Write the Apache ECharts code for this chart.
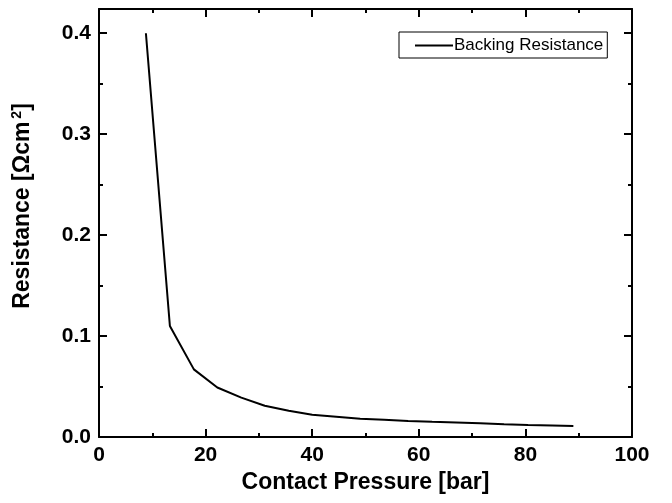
<!DOCTYPE html>
<html>
<head>
<meta charset="utf-8">
<script src="https://cdn.jsdelivr.net/npm/echarts@6/dist/echarts.min.js"></script>
<style>
  html, body { margin: 0; padding: 0; background: #fff; }
  #chart { width: 672px; height: 503px; }
</style>
</head>
<body>
<div id="chart"></div>
<script>
// contact pressure [bar]
const pressure = [8.8, 13.3, 17.8, 22.2, 26.7, 31.1, 35.6, 40, 44.5, 49, 53.5, 58, 62.5, 67, 71.5, 76, 80.5, 85, 89];
// backing resistance [Ohm cm^2]
const resistance = [0.4, 0.11, 0.067, 0.049, 0.039, 0.031, 0.026, 0.022, 0.02, 0.018, 0.017, 0.0158, 0.015, 0.0143, 0.0135, 0.0127, 0.012, 0.0115, 0.011];
const seriesName = "Backing Resistance";

const font = "Liberation Sans, Arial, sans-serif";
const points = pressure.map((p, i) => [p, resistance[i]]);

const chart = echarts.init(document.getElementById("chart"));

const tickBase = {
  axisLine: { show: true, onZero: false, lineStyle: { color: "#000", width: 2 } },
  axisTick: { show: true, inside: true, length: 8, lineStyle: { color: "#000", width: 2 } },
  minorTick: { show: true, splitNumber: 2, length: 4, lineStyle: { color: "#000", width: 2 } },
  splitLine: { show: false },
};

chart.setOption({
  animation: false,
  grid: { left: 99, right: 40, top: 9, bottom: 66 },
  legend: {
    left: 399,
    top: 32,
    data: [seriesName],
    icon: "rect",
    itemWidth: 38,
    itemHeight: 2,
    borderColor: "#000",
    borderWidth: 1,
    borderRadius: 0,
    padding: [5, 4, 4, 16],
    textStyle: { fontFamily: font, fontSize: 17, color: "#000", padding: [0, 0, 0, -4] },
  },
  xAxis: [
    {
      type: "value",
      min: 0,
      max: 100,
      interval: 20,
      position: "bottom",
      name: "Contact Pressure [bar]",
      nameLocation: "middle",
      nameGap: 33,
      nameTextStyle: { fontFamily: font, fontWeight: "bold", fontSize: 23, color: "#000" },
      axisLabel: { fontFamily: font, fontWeight: "bold", fontSize: 21, color: "#000", margin: 8 },
      ...tickBase,
    },
    {
      type: "value",
      min: 0,
      max: 100,
      interval: 20,
      position: "top",
      axisLabel: { show: false },
      ...tickBase,
    },
  ],
  yAxis: [
    {
      type: "value",
      min: 0,
      max: 0.424,
      interval: 0.1,
      position: "left",
      name: "Resistance [Ωcm{sup|2}]",
      nameLocation: "middle",
      nameGap: 63,
      nameTextStyle: {
        fontFamily: font,
        fontWeight: "bold",
        fontSize: 23,
        color: "#000",
        padding: [0, 0, 0, 34],
        rich: {
          sup: { fontFamily: font, fontWeight: "bold", fontSize: 14, color: "#000", verticalAlign: "bottom", padding: [0, 0, 12, 3] },
        },
      },
      axisLabel: {
        fontFamily: font,
        fontWeight: "bold",
        fontSize: 21,
        color: "#000",
        margin: 8,
        formatter: (v) => (Math.abs(v * 10 - Math.round(v * 10)) < 1e-6 ? v.toFixed(1) : ""),
      },
      ...tickBase,
    },
    {
      type: "value",
      min: 0,
      max: 0.424,
      interval: 0.1,
      position: "right",
      axisLabel: { show: false },
      ...tickBase,
    },
  ],
  series: [
    {
      name: seriesName,
      type: "line",
      data: points,
      symbol: "none",
      lineStyle: { color: "#000", width: 2 },
      itemStyle: { color: "#000" },
    },
  ],
});
</script>
</body>
</html>
